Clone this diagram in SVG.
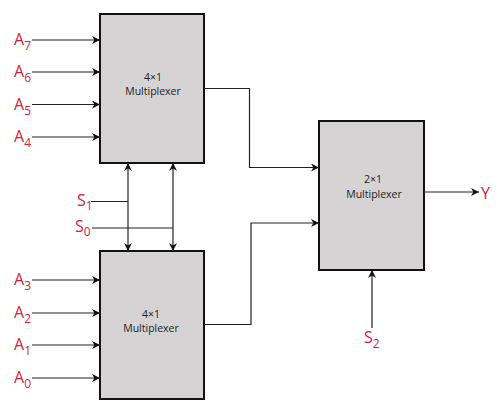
<svg xmlns="http://www.w3.org/2000/svg" width="501" height="412" viewBox="0 0 501 412">
<style>
.box{fill:#d6d3d5;stroke:#111;stroke-width:2}
.w{fill:none;stroke:#222;stroke-width:1.2}
.t{font-family:"Open Sans","Noto Sans",sans-serif;font-size:10.5px;fill:#222;text-anchor:middle}
.l{font-family:"Open Sans","Noto Sans",sans-serif;font-size:16px;fill:#d4213d}
.s{font-size:12px}
</style>
<defs>
<marker id="ah" viewBox="0 0 10 10" refX="10" refY="5" markerWidth="8" markerHeight="8" markerUnits="userSpaceOnUse" orient="auto-start-reverse">
<path d="M0,0 L10,5 L0,10 L3,5 Z" fill="#111"/>
</marker>
</defs>
<rect width="501" height="412" fill="#fff"/>
<g id="mux-top">
<rect class="box" x="100" y="14" width="104" height="149"/>
<text class="t" x="153" y="81">4×1</text>
<text class="t" x="153" y="95">Multiplexer</text>
</g>
<g id="mux-bottom">
<rect class="box" x="100" y="251" width="104" height="148"/>
<text class="t" x="151" y="318">4×1</text>
<text class="t" x="151" y="332">Multiplexer</text>
</g>
<g id="mux-2x1">
<rect class="box" x="319" y="121" width="105" height="149"/>
<text class="t" x="373" y="183">2×1</text>
<text class="t" x="374" y="197.5">Multiplexer</text>
</g>
<g id="labels">
<text class="l" x="14" y="45">A<tspan class="s" dy="5">7</tspan></text>
<text class="l" x="14" y="77">A<tspan class="s" dy="5">6</tspan></text>
<text class="l" x="14" y="110">A<tspan class="s" dy="5">5</tspan></text>
<text class="l" x="14" y="142">A<tspan class="s" dy="5">4</tspan></text>
<text class="l" x="14" y="285">A<tspan class="s" dy="5">3</tspan></text>
<text class="l" x="14" y="318">A<tspan class="s" dy="5">2</tspan></text>
<text class="l" x="14" y="350">A<tspan class="s" dy="5">1</tspan></text>
<text class="l" x="14" y="383">A<tspan class="s" dy="5">0</tspan></text>
<text class="l" x="77" y="206">S<tspan class="s" dy="4">1</tspan></text>
<text class="l" x="75" y="232">S<tspan class="s" dy="4">0</tspan></text>
<text class="l" x="364" y="343">S<tspan class="s" dy="5">2</tspan></text>
<text class="l" x="481" y="199">Y</text>
</g>
<g id="connectors">
<line class="w" x1="32" y1="40" x2="100" y2="40" marker-end="url(#ah)"/>
<line class="w" x1="32" y1="72" x2="100" y2="72" marker-end="url(#ah)"/>
<line class="w" x1="32" y1="104.5" x2="100" y2="104.5" marker-end="url(#ah)"/>
<line class="w" x1="32" y1="137" x2="100" y2="137" marker-end="url(#ah)"/>
<line class="w" x1="32" y1="280" x2="100" y2="280" marker-end="url(#ah)"/>
<line class="w" x1="32" y1="313" x2="100" y2="313" marker-end="url(#ah)"/>
<line class="w" x1="32" y1="345" x2="100" y2="345" marker-end="url(#ah)"/>
<line class="w" x1="32" y1="378" x2="100" y2="378" marker-end="url(#ah)"/>
<line class="w" x1="128" y1="163" x2="128" y2="251" marker-start="url(#ah)" marker-end="url(#ah)"/>
<line class="w" x1="173" y1="163" x2="173" y2="251" marker-start="url(#ah)" marker-end="url(#ah)"/>
<line class="w" x1="91" y1="201.5" x2="128" y2="201.5"/>
<line class="w" x1="92" y1="228" x2="173" y2="228"/>
<polyline class="w" points="204,88.5 249.5,88.5 249.5,167.5 319,167.5" marker-end="url(#ah)"/>
<polyline class="w" points="204,324.5 251,324.5 251,223 319,223" marker-end="url(#ah)"/>
<line class="w" x1="424" y1="192" x2="479" y2="192" marker-end="url(#ah)"/>
<line class="w" x1="372" y1="328" x2="372" y2="270" marker-end="url(#ah)"/>
</g>
</svg>
